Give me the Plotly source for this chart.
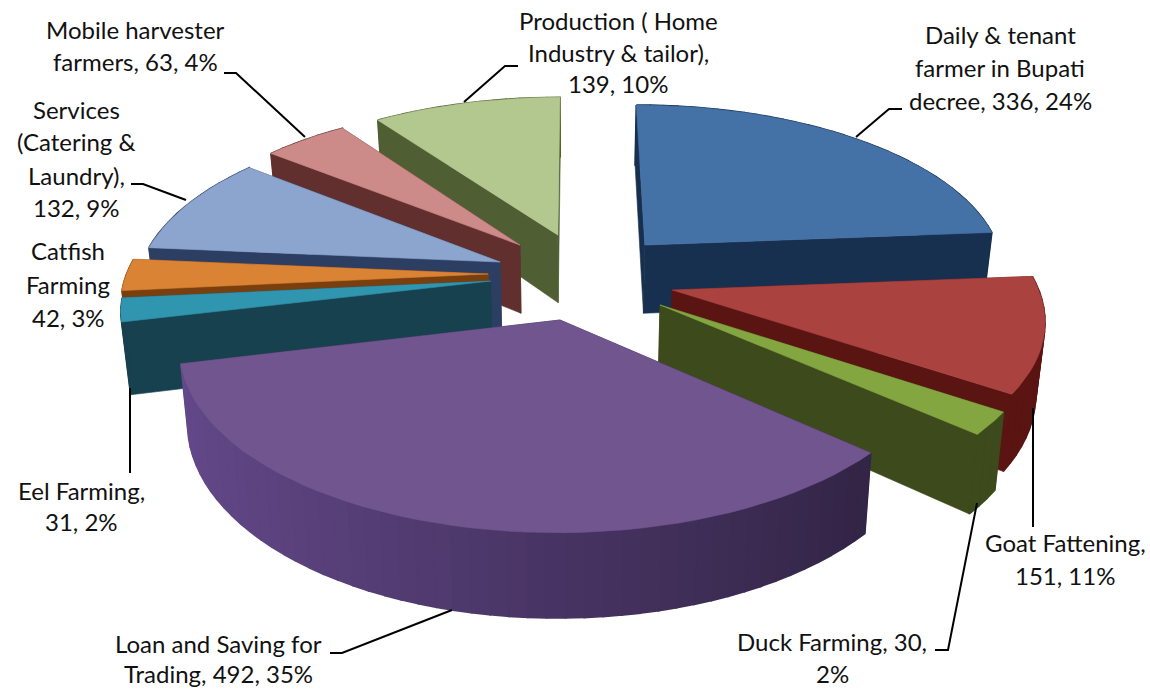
import math
import plotly.graph_objects as go

# ---- data ----
categories = ["Daily & tenant farmer in Bupati decree", "Goat Fattening", "Duck Farming",
              "Loan and Saving for Trading", "Eel Farming", "Catfish Farming",
              "Services (Catering & Laundry)", "Mobile harvester farmers",
              "Production ( Home Industry & tailor)"]
values = [336, 151, 30, 492, 31, 42, 132, 63, 139]

# ---- styling of the slices ----
top_colors = ["#4472A6", "#AA4340", "#84A640", "#71558F", "#3095AF", "#DB8335", "#8CA5CE", "#CC8A88", "#B3C88E"]
wall_colors = ["#17304F", "#5A1412", "#3C4A1C", "#3A2A50", "#18414F", "#7A3F0F", "#2C3F63", "#61302E", "#4F5F33"]
rim_gain = [0, 0, 0, 0.5, 0, 0, 0, 0, 0]
rim_base = [1, 1, 1, 1.25, 1, 1, 1, 1, 1]
pull_u = [0.198, 0.265, 0.229, -0.04, -0.232, -0.24, -0.209, -0.156, -0.049]
pull_v = [-0.183, 0.088, 0.174, 0.258, 0.036, -0.006, -0.078, -0.183, -0.246]
draw_order = [8, 7, 6, 0, 5, 4, 1, 2, 3]

# projection of the tilted disc on the page
CX, CY, RX, RY, PERSP, DEPTH, BOTTOM_X = 575, 275, 362, 168, 0.143, 70, 0.98


def project(u, v, low=False):
    s = 1 / (1 - PERSP * v)
    x = RX * u * s
    y = RY * v * s
    if low:
        return CX + x * BOTTOM_X, CY + y + DEPTH * s
    return CX + x, CY + y


def shade(col, f):
    r, g, b = int(col[1:3], 16), int(col[3:5], 16), int(col[5:7], 16)
    return f"rgb({min(255, int(r*f))},{min(255, int(g*f))},{min(255, int(b*f))})"


def poly(fig, pts, color, lw=0.6):
    xs = [p[0] for p in pts] + [pts[0][0]]
    ys = [p[1] for p in pts] + [pts[0][1]]
    fig.add_trace(go.Scatter(x=xs, y=ys, mode="lines", fill="toself", fillcolor=color,
                             line=dict(color=color, width=lw), hoverinfo="skip", showlegend=False))


fig = go.Figure()
total = sum(values)
starts = [sum(values[:i]) / total * 2 * math.pi for i in range(len(values))]
ends = [sum(values[:i + 1]) / total * 2 * math.pi for i in range(len(values))]

for i in draw_order:
    a0, a1, pu, pv = starts[i], ends[i], pull_u[i], pull_v[i]
    steps = max(3, int((a1 - a0) / math.radians(2.5)))
    angles = [a0 + (a1 - a0) * k / steps for k in range(steps + 1)]
    rim = [(pu + math.sin(a), pv - math.cos(a)) for a in angles]
    apex = (pu, pv)
    faces = []
    for (e_u, e_v) in (rim[0], rim[-1]):
        pts = [project(*apex), project(e_u, e_v), project(e_u, e_v, True), project(*apex, True)]
        faces.append(((pv + e_v) / 2, pts, wall_colors[i], 0.6))
    for k in range(steps):
        p, q = rim[k], rim[k + 1]
        mid = (angles[k] + angles[k + 1]) / 2
        f = rim_base[i] - rim_gain[i] * math.sin(mid)
        pts = [project(*p), project(*q), project(*q, True), project(*p, True)]
        faces.append(((p[1] + q[1]) / 2, pts, shade(wall_colors[i], f), 1.6))
    for _, pts, col, lw in sorted(faces, key=lambda f: f[0]):
        poly(fig, pts, col, lw)
    poly(fig, [project(*apex)] + [project(*p) for p in rim], top_colors[i])

# ---- labels ----
label_lines = [
    ["Daily & tenant", "farmer in Bupati", "decree, 336, 24%"],
    ["Goat Fattening,", "151, 11%"],
    ["Duck Farming, 30,", "2%"],
    ["Loan and Saving for", "Trading, 492, 35%"],
    ["Eel Farming,", "31, 2%"],
    ["Catfish", "Farming", "42, 3%"],
    ["Services", "(Catering &", "Laundry),", "132, 9%"],
    ["Mobile harvester", "farmers, 63, 4%"],
    ["Production ( Home", "Industry & tailor),", "139, 10%"],
]
label_x = [1000, 1065, 832, 218, 81, 68, 76, 135, 618]
label_y = [[34, 67, 100], [542, 575], [641, 673], [643, 673], [490, 521],
           [250, 284, 317], [109, 141, 175, 207], [29, 61], [20, 52, 83]]
leader_paths = [
    [(856, 137), (889, 109), (902, 109)],
    [(1033, 408), (1033, 527)],
    [(977, 503), (948, 650), (935, 650)],
    [(452, 610), (342, 653), (330, 653)],
    [(130, 388), (130, 473)],
    [(186, 200), (143, 184), (131, 184)],
    [(305, 137), (236, 73), (224, 73)],
    [(464, 102), (505, 66), (518, 66)],
]

annotations = []
for lines, x, ys in zip(label_lines, label_x, label_y):
    for text, y in zip(lines, ys):
        annotations.append(dict(x=x, y=y, xref="x", yref="y", text=text, showarrow=False,
                                xanchor="center", yanchor="middle",
                                font=dict(family="Lato, Carlito, sans-serif", size=24, color="#111111")))
shapes = []
for path in leader_paths:
    d = "M " + " L ".join(f"{x},{y}" for x, y in path)
    shapes.append(dict(type="path", path=d, xref="x", yref="y", line=dict(color="#000000", width=2)))

fig.update_layout(
    width=1150, height=690, margin=dict(l=0, r=0, t=0, b=0),
    paper_bgcolor="white", plot_bgcolor="white", showlegend=False,
    xaxis=dict(range=[0, 1150], visible=False, fixedrange=True),
    yaxis=dict(range=[690, 0], visible=False, fixedrange=True),
    annotations=annotations, shapes=shapes,
)
fig.write_html("out.html", config=dict(displayModeBar=False),
               post_script="document.body.style.margin='0';document.body.style.overflow='hidden';")
